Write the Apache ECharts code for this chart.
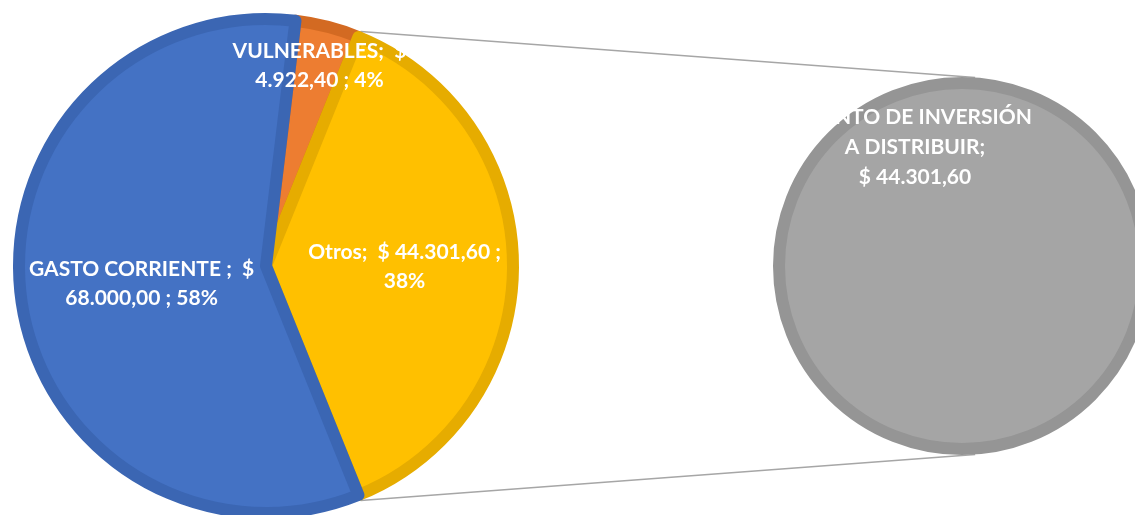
<!DOCTYPE html>
<html>
<head>
<meta charset="utf-8">
<title>Distribución</title>
<script src="https://cdn.jsdelivr.net/npm/echarts@6/dist/echarts.min.js"></script>
<style>
    html,body{margin:0;padding:0;background:#fff;}
    #main{width:1135px;height:515px;}
</style>
</head>
<body>
<div id="main"></div>
<script>
//datos del grafico
var categories=['VULNERABLES','Otros','GASTO CORRIENTE '];
var values=[4922.40,44301.60,68000.00];
var subCategories=['MONTO DE INVERSIÓN A DISTRIBUIR'];
var subValues=[44301.60];

var colors=['#ED7D31','#FFC000','#4472C4'];
var borderColors=['#D36A22','#E6AC00','#3B66B3'];

//formato de moneda 44.301,60
function money(v) {
    var parts=v.toFixed(2).split('.');
    var ent=parts[0].replace(/\B(?=(\d{3})+(?!\d))/g,'.');
    return ent+','+parts[1];
}

var total=0;
for(var i=0;i<values.length;i++){
    total+=values[i];
}
//el sector "Otros" queda centrado a la derecha
var halfOtros=values[1]/total*180;
var startAngle=halfOtros+values[0]/total*360;

var cx=266,cy=266,R=253;
var cx2=962,cy2=266,R2=189;
var bw=12;

//saltos de linea como en excel
function mainLabel(p) {
    var v=money(p.value);
    var pct=Math.round(p.percent)+'%';
    if(p.dataIndex===1){
        return p.name+';  $ '+v+' ;\n'+pct;
    }
    return p.name+';  $\n'+v+' ; '+pct;
}
var mainOffsets=[[22,-78],[12,1],[1,1]];

var mainData=[];
for(var j=0;j<categories.length;j++){
    mainData.push({
        name:categories[j],
        value:values[j],
        itemStyle:{color:colors[j],borderColor:borderColors[j]}
    });
}

//lineas que unen los dos pasteles
var a1=halfOtros*Math.PI/180;
var a2=86*Math.PI/180;
var lineStyle={stroke:'#A6A6A6',lineWidth:1.5};

var option={
    backgroundColor:'#fff',
    animation:false,
    textStyle:{fontFamily:'Lato'},
    graphic:[
        {
            type:'line',
            z:1,
            shape:{x1:cx+R*Math.cos(a1),y1:cy-R*Math.sin(a1),x2:cx2+R2*Math.cos(a2),y2:cy2-R2*Math.sin(a2)},
            style:lineStyle
        },
        {
            type:'line',
            z:1,
            shape:{x1:cx+R*Math.cos(a1),y1:cy+R*Math.sin(a1),x2:cx2+R2*Math.cos(a2),y2:cy2+R2*Math.sin(a2)},
            style:lineStyle
        }
    ],
    series:[
        {
            name:'principal',
            type:'pie',
            center:[cx,cy],
            radius:[0,R-bw/2],
            startAngle:startAngle,
            clockwise:true,
            silent:true,
            itemStyle:{borderWidth:bw},
            label:{
                show:true,
                position:'inside',
                formatter:mainLabel,
                color:'#fff',
                fontFamily:'Lato',
                fontWeight:'bold',
                fontSize:21,
                lineHeight:29,
                align:'center'
            },
            labelLayout:function (params) {
                var o=mainOffsets[params.dataIndex];
                return {dx:o[0],dy:o[1]};
            },
            labelLine:{show:false},
            emphasis:{disabled:true},
            data:mainData
        },
        {
            name:'secundario',
            type:'pie',
            center:[cx2,cy2],
            radius:[0,R2-bw/2],
            silent:true,
            itemStyle:{color:'#A5A5A5',borderColor:'#959595',borderWidth:bw},
            label:{
                show:true,
                position:'center',
                formatter:function (p) {
                    return 'MONTO DE INVERSIÓN\nA DISTRIBUIR;\n$ '+money(p.value);
                },
                color:'#fff',
                fontFamily:'Lato',
                fontWeight:'bold',
                fontSize:21,
                lineHeight:30,
                align:'center'
            },
            labelLayout:function () {
                return {dx:-47,dy:-119};
            },
            labelLine:{show:false},
            emphasis:{disabled:true},
            data:[{name:subCategories[0],value:subValues[0]}]
        }
    ]
};

var myChart=echarts.init(document.getElementById('main'));
myChart.setOption(option);
</script>
</body>
</html>
